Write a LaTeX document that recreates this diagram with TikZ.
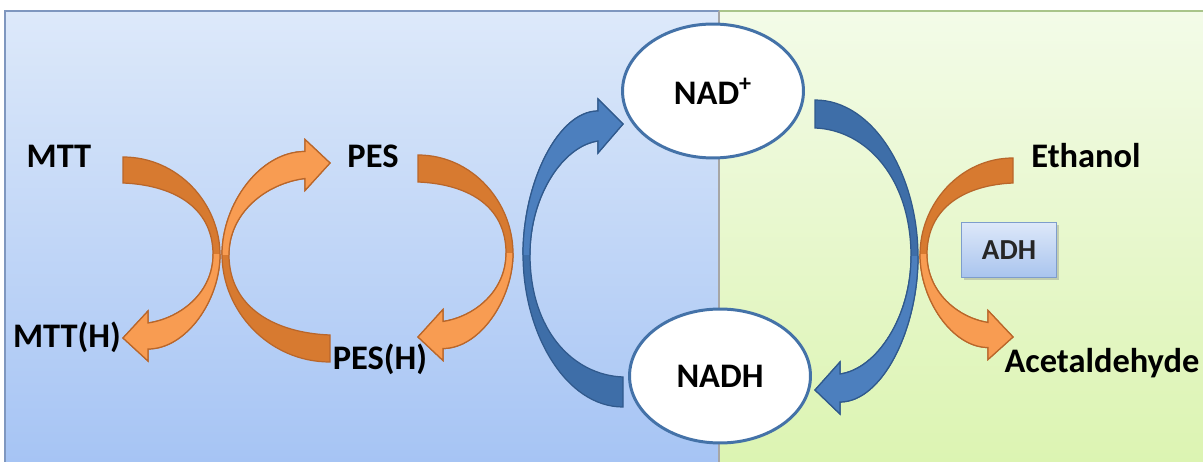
\documentclass[tikz,border=0pt]{standalone}
\usepackage{fontspec}
\setmainfont{Carlito}
\usepackage{tikz}
\usetikzlibrary{positioning}
\usetikzlibrary{shapes.geometric,shadows}
\usetikzlibrary{calc}

\definecolor{bluetop}{HTML}{DDE9FA}
\definecolor{bluebot}{HTML}{A6C4F4}
\definecolor{greentop}{HTML}{F3FBE8}
\definecolor{greenbot}{HTML}{DCF4B2}
\definecolor{orangedark}{HTML}{D77A30}
\definecolor{orangelight}{HTML}{F89C52}
\definecolor{orangeline}{HTML}{B9662A}
\definecolor{bluedark}{HTML}{3E6EA8}
\definecolor{bluelight}{HTML}{4C7FBE}
\definecolor{blueline}{HTML}{30598C}
\definecolor{ellblue}{HTML}{4472A8}
\definecolor{boxtop}{HTML}{DDE8F9}
\definecolor{boxbot}{HTML}{A9C4EE}
\definecolor{boxline}{HTML}{7E9DCC}
\definecolor{bluerim}{HTML}{7F97BF}
\definecolor{greenrim}{HTML}{A9C48A}

% curved band arrow: placement, width, length, thickness, back style, front style
\newcommand{\ribbonarrow}[6]{%
\begin{scope}[#1]
\pgfmathsetmacro{\rW}{#2}
\pgfmathsetmacro{\rL}{#3}
\pgfmathsetmacro{\rT}{#4}
\pgfmathsetmacro{\rM}{0.54*\rL}
\pgfmathsetmacro{\rI}{\rW-7}
\pgfmathsetmacro{\rSa}{\rL-2-\rT/2}
\pgfmathsetmacro{\rSb}{\rL-2+\rT/2}
\def\ribbon{(0,0) .. controls ({0.57*\rW},0) and (\rW,{0.48*\rM}) .. (\rW,\rM)
  .. controls (\rW,{\rM+0.55*(\rL-\rM)}) and ({0.65*\rW},\rSb) .. (25,\rSb)
  -- (25,{\rSb+12}) -- (0,\rL) -- (25,{\rSa-12}) -- (25,\rSa)
  .. controls ({0.6*\rW},{\rSa-5}) and (\rI,{\rM+0.45*(\rL-\rM)}) .. (\rI,\rM)
  .. controls (\rI,{0.5*\rM}) and ({0.5*\rW},{\rT+2}) .. (0,\rT) -- cycle}
\path[#5] \ribbon;
\begin{scope}
\clip (-30,\rM) rectangle ({\rW+30},{\rL+30});
\path[#6] \ribbon;
\end{scope}
\end{scope}}

\tikzset{
  lbl/.style={font=\fontsize{19.6}{22}\selectfont\bfseries, inner sep=0pt},
  cofactor/.style={ellipse, draw=ellblue, line width=1.7pt, fill=white,
    minimum width=3.62cm, minimum height=2.68cm, inner sep=0pt,
    font=\fontsize{19.6}{22}\selectfont\bfseries},
  enzyme/.style={rectangle, draw=boxline, line width=0.6pt,
    top color=boxtop, bottom color=boxbot, minimum width=1.9cm, minimum height=1.1cm,
    drop shadow={opacity=0.35, shadow xshift=1.2pt, shadow yshift=-1.2pt},
    font=\fontsize{16.5}{18}\selectfont\bfseries, text=black!85},
  orangeback/.style={fill=orangedark, draw=orangeline, line width=0.7pt},
  orangefront/.style={fill=orangelight, draw=orangeline, line width=0.7pt},
  blueback/.style={fill=bluedark, draw=blueline, line width=0.7pt},
  bluefront/.style={fill=bluelight, draw=blueline, line width=0.7pt}
}

\begin{document}
\begin{tikzpicture}[x=0.02cm, y=-0.02cm]
\useasboundingbox (0,0) rectangle (1203,462);

% panels
\fill[top color=bluetop, bottom color=bluebot] (5,11) rectangle (719,462);
\fill[top color=greentop, bottom color=greenbot] (719,11) rectangle (1203,462);
\draw[bluerim, line width=0.8pt] (5,462) -- (5,11) -- (719,11);
\draw[greenrim, line width=0.8pt] (719,11) -- (1203,11);
\draw[black!35, line width=0.6pt] (719,11) -- (719,462);

% orange arrows
\ribbonarrow{shift={(123,157)}}{97}{181}{26}{orangeback}{orangefront}
\ribbonarrow{shift={(330,362)}, xscale=-1, yscale=-1}{108}{199}{27}{orangeback}{orangefront}
\ribbonarrow{shift={(418,155)}}{95}{182}{27}{orangeback}{orangefront}
\ribbonarrow{shift={(1013,158)}, xscale=-1}{93}{179}{25}{orangeback}{orangefront}

% blue arrows
\ribbonarrow{shift={(623,407)}, xscale=-1, yscale=-1}{100}{283}{30}{blueback}{bluefront}
\ribbonarrow{shift={(815,100)}}{103}{290}{28}{blueback}{bluefront}

% cofactors
\node[cofactor] (nadplus) at (713,91) {NAD\textsuperscript{+}};
\node[cofactor] (nadh) at (720,376) {NADH};

% enzyme
\node[enzyme] (adh) at (1009,250) {ADH};

% substrates
\node[lbl, anchor=base] (mtt) at (59,168) {MTT};
\node[lbl, anchor=base] (mtth) at (67,348) {MTT(H)};
\node[lbl, anchor=base] (pes) at (373,168) {PES};
\node[lbl, anchor=base] (pesh) at (380,370) {PES(H)};
\node[lbl, anchor=base] (ethanol) at (1086,168) {Ethanol};
\node[lbl, anchor=base] (acetald) at (1102,373) {Acetaldehyde};
\end{tikzpicture}
\end{document}
